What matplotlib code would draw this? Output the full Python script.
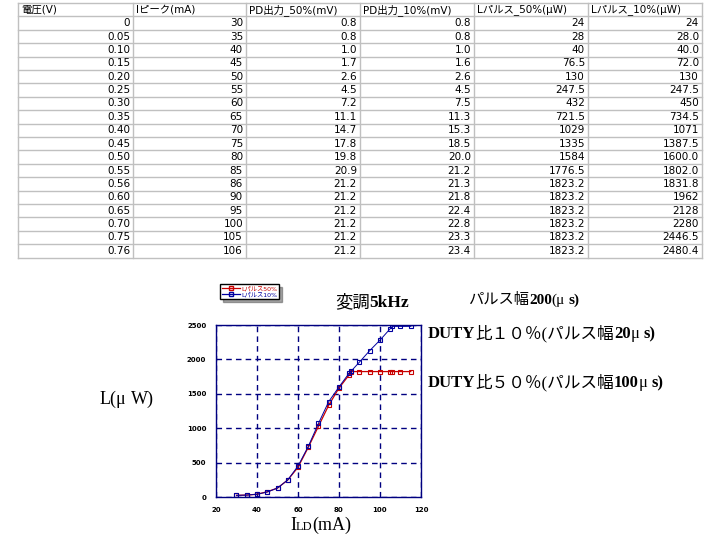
import matplotlib
matplotlib.use('Agg')
import matplotlib.pyplot as plt
from matplotlib.lines import Line2D

W, H = 720, 540
SANS = ['DejaVu Sans', 'Noto Sans CJK JP']
SERIF = ['Liberation Serif', 'Noto Sans CJK JP']
RED = '#c80000'
BLUE = '#0000a0'
NAVY = '#000080'

# ---- table as printed ----
headers = ['電圧(V)', 'Iピーク(mA)', 'PD出力_50%(mV)', 'PD出力_10%(mV)',
           'Lパルス_50%(μW)', 'Lパルス_10%(μW)']
voltage = ['0', '0.05', '0.10', '0.15', '0.20', '0.25', '0.30', '0.35', '0.40',
           '0.45', '0.50', '0.55', '0.56', '0.60', '0.65', '0.70', '0.75', '0.76']
i_peak = ['30', '35', '40', '45', '50', '55', '60', '65', '70',
          '75', '80', '85', '86', '90', '95', '100', '105', '106']
pd_50 = ['0.8', '0.8', '1.0', '1.7', '2.6', '4.5', '7.2', '11.1', '14.7',
         '17.8', '19.8', '20.9', '21.2', '21.2', '21.2', '21.2', '21.2', '21.2']
pd_10 = ['0.8', '0.8', '1.0', '1.6', '2.6', '4.5', '7.5', '11.3', '15.3',
         '18.5', '20.0', '21.2', '21.3', '21.8', '22.4', '22.8', '23.3', '23.4']
l_50 = ['24', '28', '40', '76.5', '130', '247.5', '432', '721.5', '1029',
        '1335', '1584', '1776.5', '1823.2', '1823.2', '1823.2', '1823.2', '1823.2', '1823.2']
l_10 = ['24', '28.0', '40.0', '72.0', '130', '247.5', '450', '734.5', '1071',
        '1387.5', '1600.0', '1802.0', '1831.8', '1962', '2128', '2280', '2446.5', '2480.4']

# points on the graph beyond the table rows
extra_current = [110, 115]
extra_l50 = [1823.2, 1823.2]
extra_l10 = [2480.4, 2480.4]

legend_labels = ['Lパルス50%', 'Lパルス10%']

fig = plt.figure(figsize=(7.2, 5.4), dpi=100)

# full-figure axes in pixel coordinates for the table
tab = fig.add_axes([0, 0, 1, 1])
tab.set_xlim(0, W)
tab.set_ylim(H, 0)
tab.axis('off')

col_x = [18, 133, 246, 360, 474, 588, 702]
top, row_h = 3, 13.4
columns = [voltage, i_peak, pd_50, pd_10, l_50, l_10]
n_rows = len(voltage) + 1
for k in range(n_rows + 1):
    tab.plot([col_x[0], col_x[-1]], [top + k * row_h] * 2, color='#c0c0c0', lw=1)
for x in col_x:
    tab.plot([x, x], [top, top + n_rows * row_h], color='#c0c0c0', lw=1)
for j, h in enumerate(headers):
    tab.text(col_x[j] + 3, top + row_h / 2, h, ha='left', va='center',
             fontsize=7.5, family=SANS)
for j, col in enumerate(columns):
    for i, s in enumerate(col):
        tab.text(col_x[j + 1] - 3, top + (i + 1.5) * row_h, s, ha='right',
                 va='center', fontsize=7.5, family=SANS)

# ---- graph ----
cur = [float(v) for v in i_peak] + extra_current
y50 = [float(v) for v in l_50] + extra_l50
y10 = [float(v) for v in l_10] + extra_l10

ax = fig.add_axes([216 / W, 1 - 497 / H, 205 / W, 172 / H])
ax.plot(cur, y50, color=RED, lw=0.9, marker='s', ms=3.5, mfc='none', mew=0.8)
ax.plot(cur, y10, color=BLUE, lw=0.7, marker='s', ms=3.5, mfc='none', mew=0.8)
ax.set_xlim(20, 120)
ax.set_ylim(0, 2500)
ax.set_xticks(range(20, 121, 20))
ax.set_yticks(range(0, 2501, 500))
ax.grid(True, color=NAVY, ls=(0, (4, 3)), lw=1)
ax.tick_params(length=0, labelsize=5, pad=7)
for lab in ax.get_xticklabels() + ax.get_yticklabels():
    lab.set_fontweight('bold')
for sp in ax.spines.values():
    sp.set_color(NAVY)
    sp.set_linewidth(1)

handles = [Line2D([], [], color=RED, lw=0.9, marker='s', ms=3, mfc='none'),
           Line2D([], [], color=BLUE, lw=0.9, marker='s', ms=3, mfc='none')]
leg = fig.legend(handles, legend_labels, loc='upper left',
                 bbox_to_anchor=(217 / W, 1 - 281 / H), prop={'family': SANS, 'size': 4.5},
                 frameon=True, fancybox=False, shadow=True, edgecolor='black',
                 handlelength=2.8, borderpad=0.3, labelspacing=0.1, handletextpad=0.3)
for t, c in zip(leg.get_texts(), [RED, BLUE]):
    t.set_color(c)

fig.canvas.draw()
renderer = fig.canvas.get_renderer()


def mixed_text(x, y, parts, size=12):
    """Place text pieces one after another on a common baseline (pixel coords)."""
    for part in parts:
        s, bold = part[0], part[1]
        sz = part[2] if len(part) > 2 else size
        lead = len(s) - len(s.lstrip())
        x += lead * sz * 100 / 72 * 0.25
        s = s.lstrip()
        t = fig.text(x / W, 1 - y / H, s, fontsize=sz, family=SERIF,
                     weight='bold' if bold else 'normal', ha='left', va='baseline')
        x += t.get_window_extent(renderer).width


mixed_text(335, 307, [('変調', False), ('5kHz', True)], size=12.5)
mixed_text(468, 304, [('パルス幅', False), ('200', True), ('(μ', False), (' s)', True)], size=11)
mixed_text(428, 338, [('DUTY', True), ('比１０％(パルス幅', False), ('20', True),
                      ('μ', False), (' s)', True)])
mixed_text(428, 387, [('DUTY', True), ('比５０％(パルス幅', False), ('100', True),
                      ('μ', False), (' s)', True)])
mixed_text(100, 404, [('L(μ', False), (' W)', False)], size=13)
mixed_text(290, 530, [('I', False, 13), ('LD', False, 9), ('(mA)', False, 13)])

fig.savefig('out.png', dpi=100)
